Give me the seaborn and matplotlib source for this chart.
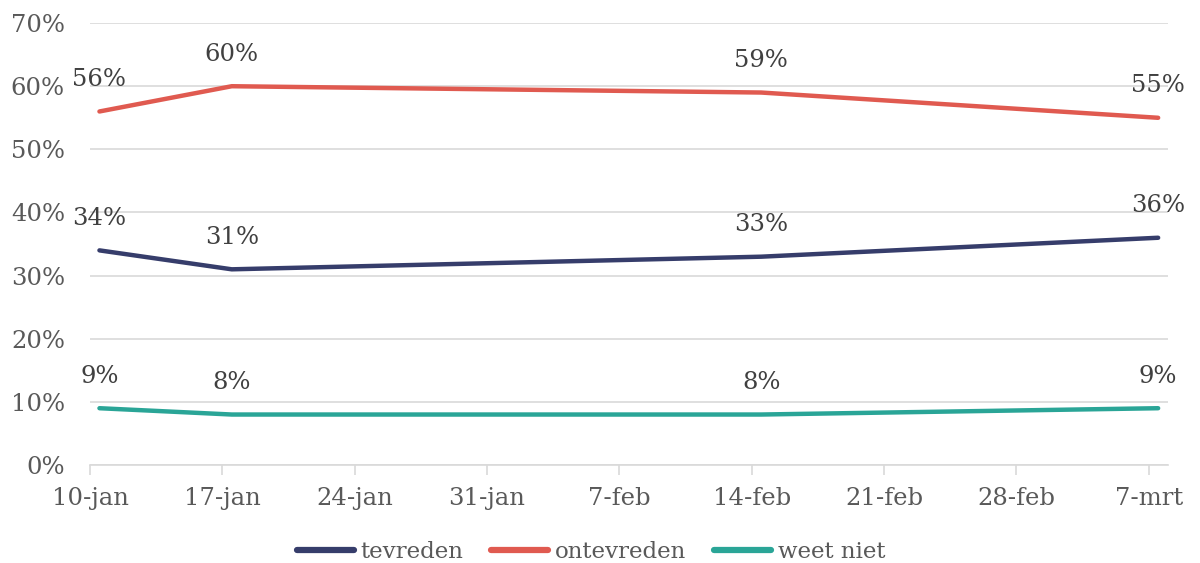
import seaborn as sns
import pandas as pd
import matplotlib.pyplot as plt

# days after 10-jan
days = [0, 7, 35, 56]
tevreden = [34, 31, 33, 36]
ontevreden = [56, 60, 59, 55]
weet_niet = [9, 8, 8, 9]
tick_labels = ['10-jan', '17-jan', '24-jan', '31-jan', '7-feb', '14-feb', '21-feb', '28-feb', '7-mrt']

series = {'tevreden': tevreden, 'ontevreden': ontevreden, 'weet niet': weet_niet}
colors = {'tevreden': '#363d6b', 'ontevreden': '#e05a50', 'weet niet': '#2aa597'}

df = pd.DataFrame([(d, name, v) for name, vals in series.items() for d, v in zip(days, vals)],
                  columns=['dag', 'reeks', 'waarde'])

sns.set_theme(style='white')
plt.rcParams['font.family'] = ['DejaVu Serif']
txt = '#595959'

fig = plt.figure(figsize=(12, 5.63), dpi=100)
ax = fig.add_axes([0.075, 0.174, 0.898, 0.785])

sns.lineplot(data=df, x='dag', y='waarde', hue='reeks', palette=colors,
             linewidth=3.2, ax=ax, legend=True,
             solid_capstyle='round', solid_joinstyle='round')

for name, vals in series.items():
    for d, v in zip(days, vals):
        ax.annotate(f'{v}%', (d, v), xytext=(0, 23), textcoords='offset points',
                    ha='center', va='center', fontsize=17.5, color='#404040')

ax.set_xlim(-0.5, 56.5)
ax.set_ylim(0, 70)
ax.set_yticks(range(0, 71, 10))
ax.set_yticklabels([f'{t}%' for t in range(0, 71, 10)])
ax.set_xticks([-0.5 + 7 * i for i in range(len(tick_labels))])
ax.set_xticklabels(tick_labels)
ax.yaxis.grid(True, color='#d9d9d9', linewidth=1.2)
ax.tick_params(axis='x', bottom=True, length=7, width=1.2, color='#d9d9d9', pad=9,
               labelsize=17.5, labelcolor=txt)
ax.tick_params(axis='y', left=False, labelsize=17.5, labelcolor=txt, pad=12)
for s in ['top', 'right', 'left']:
    ax.spines[s].set_visible(False)
ax.spines['bottom'].set_color('#d9d9d9')
ax.spines['bottom'].set_linewidth(1.2)
ax.set_xlabel('')
ax.set_ylabel('')

leg = ax.legend(loc='upper center', bbox_to_anchor=(0.465, -0.125), ncol=3, frameon=False,
                fontsize=16.5, handlelength=2.5, columnspacing=1.2, handletextpad=0.3)
for t in leg.get_texts():
    t.set_color(txt)
for line in leg.get_lines():
    line.set_linewidth(4.5)
    line.set_solid_capstyle('round')

fig.savefig('out.png', dpi=100)
